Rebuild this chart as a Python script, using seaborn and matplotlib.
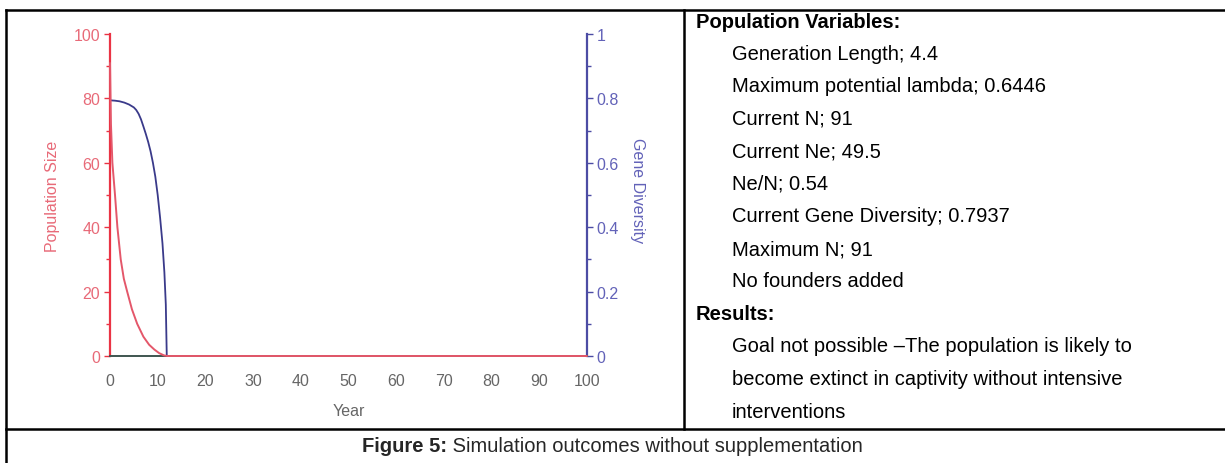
"""
Simulation outcomes without supplementation — figure 5 redraw
"""

import matplotlib
matplotlib.use("Agg")

import matplotlib.pyplot as plt
import seaborn as sns
from matplotlib.lines import Line2D
from matplotlib.ticker import MultipleLocator

W, H = 1225, 464

# population size (red)
pop_years = [0, 0.2, 0.5, 1.05, 1.55, 2.25, 2.9, 3.6, 4.6, 5.7, 7.0, 8.2, 9.3, 10.3, 11.3, 12, 100]
pop_size = [91, 72, 60, 50, 40, 30, 24, 20, 14.5, 10, 6, 3.5, 2, 0.9, 0.2, 0, 0]

# gene diversity (blue)
gd_years = [0, 1, 2, 3, 4, 5, 5.5, 6, 6.5, 7, 7.5, 8, 8.5, 9, 9.5, 10, 10.5, 11, 11.4, 11.7, 11.9]
gene_div = [0.794, 0.793, 0.791, 0.787, 0.781, 0.772, 0.764, 0.752, 0.735, 0.713, 0.69,
            0.665, 0.636, 0.6, 0.557, 0.5, 0.43, 0.35, 0.26, 0.16, 0.0]

x_ticks = [0, 10, 20, 30, 40, 50, 60, 70, 80, 90, 100]
left_ticks = [0, 20, 40, 60, 80, 100]
right_ticks = [0, 0.2, 0.4, 0.6, 0.8, 1.0]
right_labels = ["0", "0.2", "0.4", "0.6", "0.8", "1"]

pop_vars = [
    "Generation Length; 4.4",
    "Maximum potential lambda; 0.6446",
    "Current N; 91",
    "Current Ne; 49.5",
    "Ne/N; 0.54",
    "Current Gene Diversity; 0.7937",
    "Maximum N; 91",
    "No founders added",
]
results = [
    "Goal not possible \u2013The population is likely to",
    "become extinct in captivity without intensive",
    "interventions",
]

RED = "#ea3344"
RED_LINE = "#e4576a"
RED_TXT = "#e86a78"
BLUE = "#4c4ca4"
BLUE_LINE = "#3a3a8a"
BLUE_TXT = "#6262b8"
GREY_TXT = "#666666"

sns.set_style("white")
plt.rcParams["font.family"] = ["Liberation Sans", "DejaVu Sans"]
TXT_FONT = ["Liberation Sans", "DejaVu Sans"]


def fx(px):
    return px / W


def fy(py):
    return 1 - py / H


fig = plt.figure(figsize=(W / 100, H / 100), dpi=100)
fig.patch.set_facecolor("white")

# --- chart ---
ax = fig.add_axes([fx(110), fy(357), fx(587) - fx(110), fy(35) - fy(357)])
ax2 = ax.twinx()

sns.lineplot(x=gd_years, y=gene_div, ax=ax2, color=BLUE_LINE, linewidth=1.3)
sns.lineplot(x=pop_years, y=pop_size, ax=ax, color=RED_LINE, linewidth=1.4)
for ln in ax.lines:
    ln.set_clip_on(False)
    ln.set_zorder(5)
ax.set_zorder(ax2.get_zorder() + 1)
ax.patch.set_visible(False)

ax.set_xlim(0, 100)
ax.set_ylim(0, 100)
ax2.set_ylim(0, 1)
ax.set_xticks(x_ticks)
ax.set_yticks(left_ticks)
ax2.set_yticks(right_ticks)
ax2.set_yticklabels(right_labels)
ax.xaxis.set_minor_locator(MultipleLocator(5))
ax.yaxis.set_minor_locator(MultipleLocator(10))
ax2.yaxis.set_minor_locator(MultipleLocator(0.1))

for s in ["top", "right"]:
    ax.spines[s].set_visible(False)
for s in ["top", "left", "bottom"]:
    ax2.spines[s].set_visible(False)
ax.spines["left"].set_color(RED)
ax.spines["left"].set_linewidth(1.6)
ax.spines["bottom"].set_color("#3f5550")
ax.spines["bottom"].set_linewidth(1.4)
ax2.spines["right"].set_color(BLUE)
ax2.spines["right"].set_linewidth(1.6)

ax.tick_params(axis="x", which="major", direction="out", length=4, width=1,
               color="#55606a", labelcolor=GREY_TXT, labelsize=11.5, pad=8)
ax.tick_params(axis="x", which="minor", direction="out", length=3, width=1, color="#55606a")
ax.tick_params(axis="y", which="major", direction="out", length=4, width=1,
               color=RED, labelcolor=RED_TXT, labelsize=11.5, pad=3)
ax.tick_params(axis="y", which="minor", direction="out", length=3, width=1, color=RED)
ax2.tick_params(axis="y", which="major", direction="out", length=4, width=1,
                color=BLUE, labelcolor=BLUE_TXT, labelsize=11.5, pad=3)
ax2.tick_params(axis="y", which="minor", direction="out", length=3, width=1, color=BLUE)

ax.set_xlabel("Year", color=GREY_TXT, fontsize=11.5, labelpad=11)
ax.set_ylabel("")
ax2.set_ylabel("")
fig.text(fx(52), fy(196), "Population Size", rotation=90, color=RED_TXT,
         fontsize=11.5, ha="center", va="center")
fig.text(fx(637), fy(191), "Gene Diversity", rotation=270, color=BLUE_TXT,
         fontsize=11.5, ha="center", va="center")

# --- table frame ---
frame = dict(color="black", linewidth=1.8, transform=fig.transFigure, solid_capstyle="projecting")
fig.add_artist(Line2D([fx(6), 1], [fy(11), fy(11)], **frame))
fig.add_artist(Line2D([fx(6), 1], [fy(430), fy(430)], **frame))
fig.add_artist(Line2D([fx(6), fx(6)], [fy(11), 0], **frame))
fig.add_artist(Line2D([fx(684), fx(684)], [fy(11), fy(430)], **frame))

# --- right cell text ---
TXT = 14.5
step = 32.5
rows = [("Population Variables:", True)] + [(t, False) for t in pop_vars] \
    + [("Results:", True)] + [(t, False) for t in results]
for i, (t, bold) in enumerate(rows):
    x = 696 if bold else 732
    fig.text(fx(x), fy(22 + i * step), t, fontsize=TXT, family=TXT_FONT,
             fontweight="bold" if bold else "normal", ha="left", va="center", color="black")

# --- caption, centred as a whole ---
cap_b = fig.text(0, fy(447), "Figure 5:", fontsize=TXT, family=TXT_FONT,
                 fontweight="bold", ha="left", va="center")
cap_r = fig.text(0, fy(447), " Simulation outcomes without supplementation", fontsize=TXT,
                 family=TXT_FONT, ha="left", va="center")
fig.canvas.draw()
r = fig.canvas.get_renderer()
wb = cap_b.get_window_extent(r).width
wr = cap_r.get_window_extent(r).width
x0 = 612 - (wb + wr) / 2
cap_b.set_x(fx(x0))
cap_r.set_x(fx(x0 + wb))

fig.savefig("out.png", dpi=100)
